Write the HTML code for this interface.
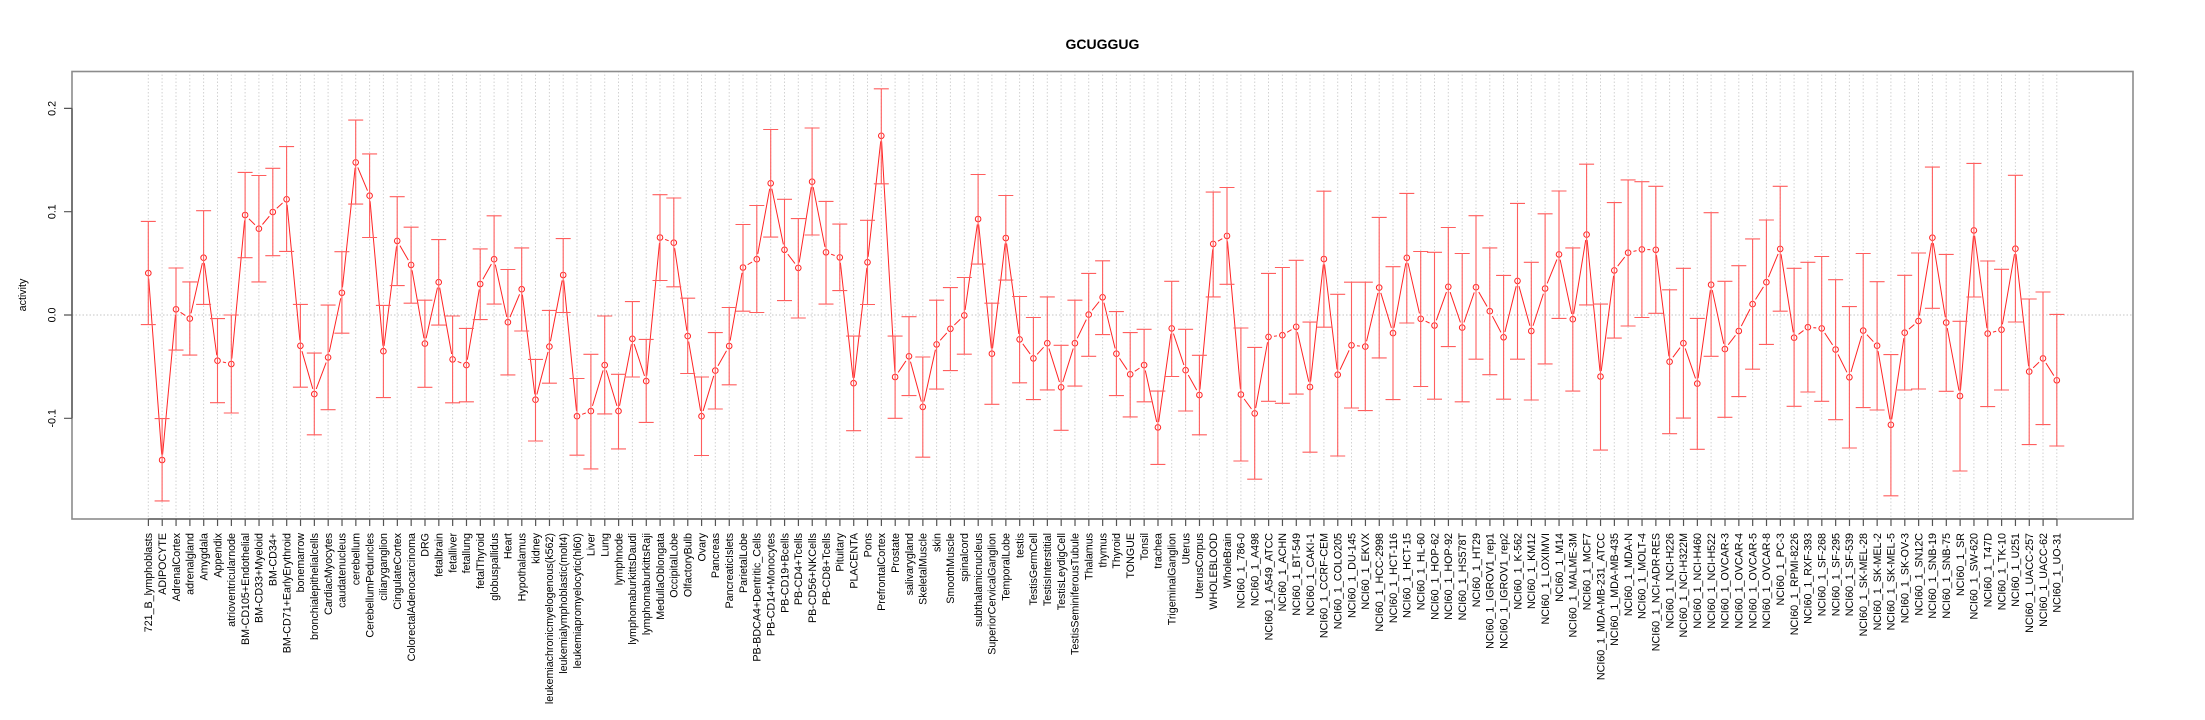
<!DOCTYPE html>
<html><head><meta charset="utf-8"><style>
body{margin:0;background:#fff}
svg{display:block}
text{font-family:"Liberation Sans",Arial,sans-serif;fill:#000}
</style></head><body>
<svg width="2205" height="720" viewBox="0 0 2205 720" xmlns="http://www.w3.org/2000/svg">
<defs>
<marker id="m" markerWidth="14" markerHeight="14" refX="7" refY="7" markerUnits="userSpaceOnUse" overflow="visible">
<circle cx="7" cy="7" r="5.5" fill="#fff"/>
<circle cx="7" cy="7" r="2.8" fill="none" stroke="#ff2424" stroke-width="1"/>
</marker>
</defs>
<rect width="2205" height="720" fill="#fff"/>
<text x="1102.5" y="49" text-anchor="middle" font-size="14" font-weight="bold">GCUGGUG</text>
<!-- grid -->
<path fill="none" stroke="#d2d2d2" stroke-width="1" stroke-dasharray="1.5 2" d="M148.3 71V519M162.1 71V519M176 71V519M189.8 71V519M203.6 71V519M217.5 71V519M231.3 71V519M245.1 71V519M258.9 71V519M272.8 71V519M286.6 71V519M300.4 71V519M314.3 71V519M328.1 71V519M341.9 71V519M355.7 71V519M369.6 71V519M383.4 71V519M397.2 71V519M411.1 71V519M424.9 71V519M438.7 71V519M452.6 71V519M466.4 71V519M480.2 71V519M494.1 71V519M507.9 71V519M521.7 71V519M535.5 71V519M549.4 71V519M563.2 71V519M577 71V519M590.9 71V519M604.7 71V519M618.5 71V519M632.4 71V519M646.2 71V519M660 71V519M673.8 71V519M687.7 71V519M701.5 71V519M715.3 71V519M729.2 71V519M743 71V519M756.8 71V519M770.7 71V519M784.5 71V519M798.3 71V519M812.1 71V519M826 71V519M839.8 71V519M853.6 71V519M867.5 71V519M881.3 71V519M895.1 71V519M909 71V519M922.8 71V519M936.6 71V519M950.4 71V519M964.3 71V519M978.1 71V519M991.9 71V519M1005.8 71V519M1019.6 71V519M1033.4 71V519M1047.3 71V519M1061.1 71V519M1074.9 71V519M1088.7 71V519M1102.6 71V519M1116.4 71V519M1130.2 71V519M1144.1 71V519M1157.9 71V519M1171.7 71V519M1185.6 71V519M1199.4 71V519M1213.2 71V519M1227 71V519M1240.9 71V519M1254.7 71V519M1268.5 71V519M1282.4 71V519M1296.2 71V519M1310 71V519M1323.9 71V519M1337.7 71V519M1351.5 71V519M1365.3 71V519M1379.2 71V519M1393 71V519M1406.8 71V519M1420.7 71V519M1434.5 71V519M1448.3 71V519M1462.2 71V519M1476 71V519M1489.8 71V519M1503.6 71V519M1517.5 71V519M1531.3 71V519M1545.1 71V519M1559 71V519M1572.8 71V519M1586.6 71V519M1600.5 71V519M1614.3 71V519M1628.1 71V519M1641.9 71V519M1655.8 71V519M1669.6 71V519M1683.4 71V519M1697.3 71V519M1711.1 71V519M1724.9 71V519M1738.8 71V519M1752.6 71V519M1766.4 71V519M1780.2 71V519M1794.1 71V519M1807.9 71V519M1821.7 71V519M1835.6 71V519M1849.4 71V519M1863.2 71V519M1877.1 71V519M1890.9 71V519M1904.7 71V519M1918.5 71V519M1932.4 71V519M1946.2 71V519M1960 71V519M1973.9 71V519M1987.7 71V519M2001.5 71V519M2015.4 71V519M2029.2 71V519M2043 71V519M2056.8 71V519"/>
<line x1="72" y1="315" x2="2133" y2="315" stroke="#c4c4c4" stroke-width="1" stroke-dasharray="1.5 2"/>
<!-- series line with point markers -->
<polyline fill="none" stroke="#ff2424" stroke-width="1" marker-start="url(#m)" marker-mid="url(#m)" marker-end="url(#m)" points="148.3,273.1 162.1,460 176,309.3 189.8,318.6 203.6,257.7 217.5,360.7 231.3,364 245.1,215 258.9,228.7 272.8,212 286.6,199.3 300.4,345.8 314.3,394.1 328.1,357.4 341.9,292.8 355.7,162.4 369.6,195.7 383.4,351.2 397.2,240.9 411.1,264.9 424.9,343.6 438.7,282.2 452.6,359.4 466.4,365.1 480.2,284 494.1,259.2 507.9,322.2 521.7,289.2 535.5,399.7 549.4,346.6 563.2,275 577,416.2 590.9,411.1 604.7,365.1 618.5,411.1 632.4,338.8 646.2,381.1 660,237.5 673.8,242.7 687.7,336.1 701.5,416.2 715.3,370.6 729.2,346 743,267.5 756.8,259.2 770.7,183.3 784.5,249.8 798.3,267.9 812.1,181.7 826,252.3 839.8,257.4 853.6,383.2 867.5,262.3 881.3,135.8 895.1,377 909,356.3 922.8,406.9 936.6,344.4 950.4,328.8 964.3,315.4 978.1,219 991.9,353.7 1005.8,238 1019.6,339.4 1033.4,358.4 1047.3,343.2 1061.1,387.3 1074.9,343.2 1088.7,314.6 1102.6,297.3 1116.4,353.7 1130.2,374.3 1144.1,365.1 1157.9,427.4 1171.7,328.4 1185.6,370.2 1199.4,395 1213.2,243.9 1227,235.9 1240.9,394.5 1254.7,413.4 1268.5,336.9 1282.4,335.2 1296.2,326.8 1310,387 1323.9,259 1337.7,374.7 1351.5,345.3 1365.3,346.6 1379.2,287.6 1393,333.1 1406.8,257.8 1420.7,318.8 1434.5,325.5 1448.3,286.8 1462.2,327.6 1476,287.2 1489.8,311.2 1503.6,337.3 1517.5,280.9 1531.3,331 1545.1,288.5 1559,254.4 1572.8,319.2 1586.6,234.6 1600.5,376.5 1614.3,270.4 1628.1,252.7 1641.9,249.4 1655.8,249.8 1669.6,361.7 1683.4,343.2 1697.3,383.6 1711.1,284.7 1724.9,349.1 1738.8,331 1752.6,304.1 1766.4,282.2 1780.2,248.9 1794.1,337.7 1807.9,327.2 1821.7,328.4 1835.6,349.5 1849.4,377.3 1863.2,330.6 1877.1,345.7 1890.9,424.8 1904.7,332.7 1918.5,321 1932.4,237.7 1946.2,322.6 1960,396 1973.9,230.4 1987.7,333.6 2001.5,329.7 2015.4,248.7 2029.2,371.6 2043,358.4 2056.8,380.3"/>
<!-- error bars -->
<path fill="none" stroke="#ff5e5e" stroke-width="1.1" d="M148.3 221.4m-7.5 0h15m-7.5 0V324.6m-7.5 0h15M162.1 418.6m-7.5 0h15m-7.5 0V500.9m-7.5 0h15M176 268m-7.5 0h15m-7.5 0V350.1m-7.5 0h15M189.8 281.9m-7.5 0h15m-7.5 0V355.1m-7.5 0h15M203.6 210.7m-7.5 0h15m-7.5 0V304.4m-7.5 0h15M217.5 318.6m-7.5 0h15m-7.5 0V402.7m-7.5 0h15M231.3 315m-7.5 0h15m-7.5 0V413m-7.5 0h15M245.1 172.4m-7.5 0h15m-7.5 0V257.7m-7.5 0h15M258.9 175.5m-7.5 0h15m-7.5 0V281.9m-7.5 0h15M272.8 168.3m-7.5 0h15m-7.5 0V255.7m-7.5 0h15M286.6 146.6m-7.5 0h15m-7.5 0V251.4m-7.5 0h15M300.4 304.4m-7.5 0h15m-7.5 0V387.2m-7.5 0h15M314.3 353.1m-7.5 0h15m-7.5 0V434.8m-7.5 0h15M328.1 305.1m-7.5 0h15m-7.5 0V409.7m-7.5 0h15M341.9 251.7m-7.5 0h15m-7.5 0V333.2m-7.5 0h15M355.7 120.1m-7.5 0h15m-7.5 0V204.1m-7.5 0h15M369.6 153.9m-7.5 0h15m-7.5 0V237.5m-7.5 0h15M383.4 305.4m-7.5 0h15m-7.5 0V397.6m-7.5 0h15M397.2 196.7m-7.5 0h15m-7.5 0V285.6m-7.5 0h15M411.1 227.2m-7.5 0h15m-7.5 0V303.2m-7.5 0h15M424.9 300.2m-7.5 0h15m-7.5 0V387.3m-7.5 0h15M438.7 239.6m-7.5 0h15m-7.5 0V325.1m-7.5 0h15M452.6 316m-7.5 0h15m-7.5 0V402.8m-7.5 0h15M466.4 328.4m-7.5 0h15m-7.5 0V401.8m-7.5 0h15M480.2 248.9m-7.5 0h15m-7.5 0V319.6m-7.5 0h15M494.1 215.8m-7.5 0h15m-7.5 0V304.1m-7.5 0h15M507.9 269.5m-7.5 0h15m-7.5 0V374.9m-7.5 0h15M521.7 247.9m-7.5 0h15m-7.5 0V331m-7.5 0h15M535.5 359.4m-7.5 0h15m-7.5 0V441m-7.5 0h15M549.4 310.4m-7.5 0h15m-7.5 0V383.2m-7.5 0h15M563.2 238.6m-7.5 0h15m-7.5 0V312.5m-7.5 0h15M577 378.5m-7.5 0h15m-7.5 0V455.2m-7.5 0h15M590.9 354.3m-7.5 0h15m-7.5 0V468.9m-7.5 0h15M604.7 316m-7.5 0h15m-7.5 0V413.9m-7.5 0h15M618.5 374.3m-7.5 0h15m-7.5 0V448.9m-7.5 0h15M632.4 301.6m-7.5 0h15m-7.5 0V377m-7.5 0h15M646.2 339.4m-7.5 0h15m-7.5 0V422.4m-7.5 0h15M660 194.7m-7.5 0h15m-7.5 0V280.5m-7.5 0h15M673.8 198m-7.5 0h15m-7.5 0V286.8m-7.5 0h15M687.7 298.2m-7.5 0h15m-7.5 0V373.5m-7.5 0h15M701.5 377m-7.5 0h15m-7.5 0V455.5m-7.5 0h15M715.3 332.6m-7.5 0h15m-7.5 0V409m-7.5 0h15M729.2 307.5m-7.5 0h15m-7.5 0V384.8m-7.5 0h15M743 224.5m-7.5 0h15m-7.5 0V311.2m-7.5 0h15M756.8 205.5m-7.5 0h15m-7.5 0V312.5m-7.5 0h15M770.7 129.5m-7.5 0h15m-7.5 0V237.1m-7.5 0h15M784.5 199.3m-7.5 0h15m-7.5 0V300.6m-7.5 0h15M798.3 218.6m-7.5 0h15m-7.5 0V318m-7.5 0h15M812.1 128m-7.5 0h15m-7.5 0V235m-7.5 0h15M826 201.4m-7.5 0h15m-7.5 0V304.1m-7.5 0h15M839.8 224.1m-7.5 0h15m-7.5 0V290.6m-7.5 0h15M853.6 336.1m-7.5 0h15m-7.5 0V430.7m-7.5 0h15M867.5 220.3m-7.5 0h15m-7.5 0V304.5m-7.5 0h15M881.3 88.8m-7.5 0h15m-7.5 0V183.8m-7.5 0h15M895.1 336.1m-7.5 0h15m-7.5 0V418.3m-7.5 0h15M909 316.7m-7.5 0h15m-7.5 0V395.6m-7.5 0h15M922.8 357m-7.5 0h15m-7.5 0V457.2m-7.5 0h15M936.6 300.2m-7.5 0h15m-7.5 0V389.1m-7.5 0h15M950.4 287.6m-7.5 0h15m-7.5 0V370.6m-7.5 0h15M964.3 277.5m-7.5 0h15m-7.5 0V354.2m-7.5 0h15M978.1 174.5m-7.5 0h15m-7.5 0V264.1m-7.5 0h15M991.9 303.2m-7.5 0h15m-7.5 0V404.3m-7.5 0h15M1005.8 195.5m-7.5 0h15m-7.5 0V280.1m-7.5 0h15M1019.6 296.5m-7.5 0h15m-7.5 0V382.8m-7.5 0h15M1033.4 317.5m-7.5 0h15m-7.5 0V399.6m-7.5 0h15M1047.3 296.9m-7.5 0h15m-7.5 0V389.9m-7.5 0h15M1061.1 345.3m-7.5 0h15m-7.5 0V430.3m-7.5 0h15M1074.9 300.2m-7.5 0h15m-7.5 0V386.1m-7.5 0h15M1088.7 273.4m-7.5 0h15m-7.5 0V356.3m-7.5 0h15M1102.6 260.8m-7.5 0h15m-7.5 0V334.6m-7.5 0h15M1116.4 311.6m-7.5 0h15m-7.5 0V395.6m-7.5 0h15M1130.2 332.6m-7.5 0h15m-7.5 0V416.9m-7.5 0h15M1144.1 329.3m-7.5 0h15m-7.5 0V401.8m-7.5 0h15M1157.9 391.1m-7.5 0h15m-7.5 0V464.4m-7.5 0h15M1171.7 281.3m-7.5 0h15m-7.5 0V376.5m-7.5 0h15M1185.6 329.3m-7.5 0h15m-7.5 0V411m-7.5 0h15M1199.4 355.3m-7.5 0h15m-7.5 0V434.8m-7.5 0h15M1213.2 192.1m-7.5 0h15m-7.5 0V296.9m-7.5 0h15M1227 187.5m-7.5 0h15m-7.5 0V284.3m-7.5 0h15M1240.9 328m-7.5 0h15m-7.5 0V461m-7.5 0h15M1254.7 347.4m-7.5 0h15m-7.5 0V479.2m-7.5 0h15M1268.5 273.4m-7.5 0h15m-7.5 0V401.3m-7.5 0h15M1282.4 267.5m-7.5 0h15m-7.5 0V403.3m-7.5 0h15M1296.2 260.3m-7.5 0h15m-7.5 0V394.1m-7.5 0h15M1310 322.1m-7.5 0h15m-7.5 0V452.2m-7.5 0h15M1323.9 191.2m-7.5 0h15m-7.5 0V327.2m-7.5 0h15M1337.7 294.3m-7.5 0h15m-7.5 0V456m-7.5 0h15M1351.5 282.2m-7.5 0h15m-7.5 0V408m-7.5 0h15M1365.3 282.2m-7.5 0h15m-7.5 0V410.6m-7.5 0h15M1379.2 217.4m-7.5 0h15m-7.5 0V357.9m-7.5 0h15M1393 266.7m-7.5 0h15m-7.5 0V399.6m-7.5 0h15M1406.8 193.4m-7.5 0h15m-7.5 0V323m-7.5 0h15M1420.7 251.5m-7.5 0h15m-7.5 0V386.5m-7.5 0h15M1434.5 252.3m-7.5 0h15m-7.5 0V399.2m-7.5 0h15M1448.3 227.5m-7.5 0h15m-7.5 0V346.6m-7.5 0h15M1462.2 253.5m-7.5 0h15m-7.5 0V401.8m-7.5 0h15M1476 215.7m-7.5 0h15m-7.5 0V359.2m-7.5 0h15M1489.8 247.9m-7.5 0h15m-7.5 0V374.7m-7.5 0h15M1503.6 275.4m-7.5 0h15m-7.5 0V399.2m-7.5 0h15M1517.5 203.4m-7.5 0h15m-7.5 0V359.2m-7.5 0h15M1531.3 262.3m-7.5 0h15m-7.5 0V400m-7.5 0h15M1545.1 213.8m-7.5 0h15m-7.5 0V363.9m-7.5 0h15M1559 191m-7.5 0h15m-7.5 0V318.4m-7.5 0h15M1572.8 247.9m-7.5 0h15m-7.5 0V391.1m-7.5 0h15M1586.6 164.2m-7.5 0h15m-7.5 0V304.9m-7.5 0h15M1600.5 304.1m-7.5 0h15m-7.5 0V450.1m-7.5 0h15M1614.3 202.6m-7.5 0h15m-7.5 0V338.1m-7.5 0h15M1628.1 179.9m-7.5 0h15m-7.5 0V326m-7.5 0h15M1641.9 181.7m-7.5 0h15m-7.5 0V317.5m-7.5 0h15M1655.8 186.3m-7.5 0h15m-7.5 0V313.3m-7.5 0h15M1669.6 289.8m-7.5 0h15m-7.5 0V433.7m-7.5 0h15M1683.4 268.3m-7.5 0h15m-7.5 0V418.1m-7.5 0h15M1697.3 318.4m-7.5 0h15m-7.5 0V449.3m-7.5 0h15M1711.1 212.7m-7.5 0h15m-7.5 0V356.3m-7.5 0h15M1724.9 281.3m-7.5 0h15m-7.5 0V417.3m-7.5 0h15M1738.8 265.7m-7.5 0h15m-7.5 0V396.6m-7.5 0h15M1752.6 238.9m-7.5 0h15m-7.5 0V369.2m-7.5 0h15M1766.4 220m-7.5 0h15m-7.5 0V344.4m-7.5 0h15M1780.2 186.3m-7.5 0h15m-7.5 0V311.2m-7.5 0h15M1794.1 268.3m-7.5 0h15m-7.5 0V406.3m-7.5 0h15M1807.9 262.3m-7.5 0h15m-7.5 0V392m-7.5 0h15M1821.7 256.5m-7.5 0h15m-7.5 0V401.3m-7.5 0h15M1835.6 279.7m-7.5 0h15m-7.5 0V419.7m-7.5 0h15M1849.4 306.6m-7.5 0h15m-7.5 0V448m-7.5 0h15M1863.2 253.5m-7.5 0h15m-7.5 0V407.6m-7.5 0h15M1877.1 281.7m-7.5 0h15m-7.5 0V410m-7.5 0h15M1890.9 354.6m-7.5 0h15m-7.5 0V495.8m-7.5 0h15M1904.7 275.3m-7.5 0h15m-7.5 0V390m-7.5 0h15M1918.5 253m-7.5 0h15m-7.5 0V389m-7.5 0h15M1932.4 167.1m-7.5 0h15m-7.5 0V308.3m-7.5 0h15M1946.2 254.4m-7.5 0h15m-7.5 0V391.3m-7.5 0h15M1960 321.3m-7.5 0h15m-7.5 0V471m-7.5 0h15M1973.9 163.4m-7.5 0h15m-7.5 0V297m-7.5 0h15M1987.7 261m-7.5 0h15m-7.5 0V406.6m-7.5 0h15M2001.5 269.3m-7.5 0h15m-7.5 0V390m-7.5 0h15M2015.4 175.3m-7.5 0h15m-7.5 0V322m-7.5 0h15M2029.2 299m-7.5 0h15m-7.5 0V444.6m-7.5 0h15M2043 292m-7.5 0h15m-7.5 0V424.6m-7.5 0h15M2056.8 314.4m-7.5 0h15m-7.5 0V446m-7.5 0h15"/>
<!-- box and axes -->
<rect x="72" y="71.5" width="2061" height="447.5" fill="none" stroke="#8c8c8c" stroke-width="1.6"/>
<line x1="72" y1="108.4" x2="72" y2="418.3" stroke="#666" stroke-width="1.6"/>
<line x1="148.3" y1="519" x2="2056.8" y2="519" stroke="#666" stroke-width="1.6"/>
<path stroke="#555" stroke-width="1.2" d="M64 108.4H72M64 211.7H72M64 315H72M64 418.3H72"/>
<line x1="147.8" y1="522.5" x2="2058" y2="522.5" stroke="#555" stroke-width="7" stroke-dasharray="1.2 12.63"/>
<g font-size="10.7" text-anchor="middle">
<text transform="translate(55.5,108.4) rotate(-90)">0.2</text>
<text transform="translate(55.5,211.7) rotate(-90)">0.1</text>
<text transform="translate(55.5,315) rotate(-90)">0.0</text>
<text transform="translate(55.5,418.3) rotate(-90)">-0.1</text>
<text transform="translate(26,295) rotate(-90)">activity</text>
</g>
<g font-size="10.7" text-anchor="end">
<text transform="translate(152.1,533) rotate(-90)">721_B_lymphoblasts</text>
<text transform="translate(165.9,533) rotate(-90)">ADIPOCYTE</text>
<text transform="translate(179.8,533) rotate(-90)">AdrenalCortex</text>
<text transform="translate(193.6,533) rotate(-90)">adrenalgland</text>
<text transform="translate(207.4,533) rotate(-90)">Amygdala</text>
<text transform="translate(221.3,533) rotate(-90)">Appendix</text>
<text transform="translate(235.1,533) rotate(-90)">atrioventricularnode</text>
<text transform="translate(248.9,533) rotate(-90)">BM-CD105+Endothelial</text>
<text transform="translate(262.7,533) rotate(-90)">BM-CD33+Myeloid</text>
<text transform="translate(276.6,533) rotate(-90)">BM-CD34+</text>
<text transform="translate(290.4,533) rotate(-90)">BM-CD71+EarlyErythroid</text>
<text transform="translate(304.2,533) rotate(-90)">bonemarrow</text>
<text transform="translate(318.1,533) rotate(-90)">bronchialepithelialcells</text>
<text transform="translate(331.9,533) rotate(-90)">CardiacMyocytes</text>
<text transform="translate(345.7,533) rotate(-90)">caudatenucleus</text>
<text transform="translate(359.5,533) rotate(-90)">cerebellum</text>
<text transform="translate(373.4,533) rotate(-90)">CerebellumPeduncles</text>
<text transform="translate(387.2,533) rotate(-90)">ciliaryganglion</text>
<text transform="translate(401,533) rotate(-90)">CingulateCortex</text>
<text transform="translate(414.9,533) rotate(-90)">ColorectalAdenocarcinoma</text>
<text transform="translate(428.7,533) rotate(-90)">DRG</text>
<text transform="translate(442.5,533) rotate(-90)">fetalbrain</text>
<text transform="translate(456.4,533) rotate(-90)">fetalliver</text>
<text transform="translate(470.2,533) rotate(-90)">fetallung</text>
<text transform="translate(484,533) rotate(-90)">fetalThyroid</text>
<text transform="translate(497.9,533) rotate(-90)">globuspallidus</text>
<text transform="translate(511.7,533) rotate(-90)">Heart</text>
<text transform="translate(525.5,533) rotate(-90)">Hypothalamus</text>
<text transform="translate(539.3,533) rotate(-90)">kidney</text>
<text transform="translate(553.2,533) rotate(-90)">leukemiachronicmyelogenous(k562)</text>
<text transform="translate(567,533) rotate(-90)">leukemialymphoblastic(molt4)</text>
<text transform="translate(580.8,533) rotate(-90)">leukemiapromyelocytic(hl60)</text>
<text transform="translate(594.7,533) rotate(-90)">Liver</text>
<text transform="translate(608.5,533) rotate(-90)">Lung</text>
<text transform="translate(622.3,533) rotate(-90)">lymphnode</text>
<text transform="translate(636.2,533) rotate(-90)">lymphomaburkittsDaudi</text>
<text transform="translate(650,533) rotate(-90)">lymphomaburkittsRaji</text>
<text transform="translate(663.8,533) rotate(-90)">MedullaOblongata</text>
<text transform="translate(677.6,533) rotate(-90)">OccipitalLobe</text>
<text transform="translate(691.5,533) rotate(-90)">OlfactoryBulb</text>
<text transform="translate(705.3,533) rotate(-90)">Ovary</text>
<text transform="translate(719.1,533) rotate(-90)">Pancreas</text>
<text transform="translate(733,533) rotate(-90)">PancreaticIslets</text>
<text transform="translate(746.8,533) rotate(-90)">ParietalLobe</text>
<text transform="translate(760.6,533) rotate(-90)">PB-BDCA4+Dentritic_Cells</text>
<text transform="translate(774.5,533) rotate(-90)">PB-CD14+Monocytes</text>
<text transform="translate(788.3,533) rotate(-90)">PB-CD19+Bcells</text>
<text transform="translate(802.1,533) rotate(-90)">PB-CD4+Tcells</text>
<text transform="translate(815.9,533) rotate(-90)">PB-CD56+NKCells</text>
<text transform="translate(829.8,533) rotate(-90)">PB-CD8+Tcells</text>
<text transform="translate(843.6,533) rotate(-90)">Pituitary</text>
<text transform="translate(857.4,533) rotate(-90)">PLACENTA</text>
<text transform="translate(871.3,533) rotate(-90)">Pons</text>
<text transform="translate(885.1,533) rotate(-90)">PrefrontalCortex</text>
<text transform="translate(898.9,533) rotate(-90)">Prostate</text>
<text transform="translate(912.8,533) rotate(-90)">salivarygland</text>
<text transform="translate(926.6,533) rotate(-90)">SkeletalMuscle</text>
<text transform="translate(940.4,533) rotate(-90)">skin</text>
<text transform="translate(954.2,533) rotate(-90)">SmoothMuscle</text>
<text transform="translate(968.1,533) rotate(-90)">spinalcord</text>
<text transform="translate(981.9,533) rotate(-90)">subthalamicnucleus</text>
<text transform="translate(995.7,533) rotate(-90)">SuperiorCervicalGanglion</text>
<text transform="translate(1009.6,533) rotate(-90)">TemporalLobe</text>
<text transform="translate(1023.4,533) rotate(-90)">testis</text>
<text transform="translate(1037.2,533) rotate(-90)">TestisGermCell</text>
<text transform="translate(1051.1,533) rotate(-90)">TestisInterstitial</text>
<text transform="translate(1064.9,533) rotate(-90)">TestisLeydigCell</text>
<text transform="translate(1078.7,533) rotate(-90)">TestisSeminiferousTubule</text>
<text transform="translate(1092.5,533) rotate(-90)">Thalamus</text>
<text transform="translate(1106.4,533) rotate(-90)">thymus</text>
<text transform="translate(1120.2,533) rotate(-90)">Thyroid</text>
<text transform="translate(1134,533) rotate(-90)">TONGUE</text>
<text transform="translate(1147.9,533) rotate(-90)">Tonsil</text>
<text transform="translate(1161.7,533) rotate(-90)">trachea</text>
<text transform="translate(1175.5,533) rotate(-90)">TrigeminalGanglion</text>
<text transform="translate(1189.4,533) rotate(-90)">Uterus</text>
<text transform="translate(1203.2,533) rotate(-90)">UterusCorpus</text>
<text transform="translate(1217,533) rotate(-90)">WHOLEBLOOD</text>
<text transform="translate(1230.8,533) rotate(-90)">WholeBrain</text>
<text transform="translate(1244.7,533) rotate(-90)">NCI60_1_786-0</text>
<text transform="translate(1258.5,533) rotate(-90)">NCI60_1_A498</text>
<text transform="translate(1272.3,533) rotate(-90)">NCI60_1_A549_ATCC</text>
<text transform="translate(1286.2,533) rotate(-90)">NCI60_1_ACHN</text>
<text transform="translate(1300,533) rotate(-90)">NCI60_1_BT-549</text>
<text transform="translate(1313.8,533) rotate(-90)">NCI60_1_CAKI-1</text>
<text transform="translate(1327.7,533) rotate(-90)">NCI60_1_CCRF-CEM</text>
<text transform="translate(1341.5,533) rotate(-90)">NCI60_1_COLO205</text>
<text transform="translate(1355.3,533) rotate(-90)">NCI60_1_DU-145</text>
<text transform="translate(1369.1,533) rotate(-90)">NCI60_1_EKVX</text>
<text transform="translate(1383,533) rotate(-90)">NCI60_1_HCC-2998</text>
<text transform="translate(1396.8,533) rotate(-90)">NCI60_1_HCT-116</text>
<text transform="translate(1410.6,533) rotate(-90)">NCI60_1_HCT-15</text>
<text transform="translate(1424.5,533) rotate(-90)">NCI60_1_HL-60</text>
<text transform="translate(1438.3,533) rotate(-90)">NCI60_1_HOP-62</text>
<text transform="translate(1452.1,533) rotate(-90)">NCI60_1_HOP-92</text>
<text transform="translate(1466,533) rotate(-90)">NCI60_1_HS578T</text>
<text transform="translate(1479.8,533) rotate(-90)">NCI60_1_HT29</text>
<text transform="translate(1493.6,533) rotate(-90)">NCI60_1_IGROV1_rep1</text>
<text transform="translate(1507.4,533) rotate(-90)">NCI60_1_IGROV1_rep2</text>
<text transform="translate(1521.3,533) rotate(-90)">NCI60_1_K-562</text>
<text transform="translate(1535.1,533) rotate(-90)">NCI60_1_KM12</text>
<text transform="translate(1548.9,533) rotate(-90)">NCI60_1_LOXIMVI</text>
<text transform="translate(1562.8,533) rotate(-90)">NCI60_1_M14</text>
<text transform="translate(1576.6,533) rotate(-90)">NCI60_1_MALME-3M</text>
<text transform="translate(1590.4,533) rotate(-90)">NCI60_1_MCF7</text>
<text transform="translate(1604.3,533) rotate(-90)">NCI60_1_MDA-MB-231_ATCC</text>
<text transform="translate(1618.1,533) rotate(-90)">NCI60_1_MDA-MB-435</text>
<text transform="translate(1631.9,533) rotate(-90)">NCI60_1_MDA-N</text>
<text transform="translate(1645.7,533) rotate(-90)">NCI60_1_MOLT-4</text>
<text transform="translate(1659.6,533) rotate(-90)">NCI60_1_NCI-ADR-RES</text>
<text transform="translate(1673.4,533) rotate(-90)">NCI60_1_NCI-H226</text>
<text transform="translate(1687.2,533) rotate(-90)">NCI60_1_NCI-H322M</text>
<text transform="translate(1701.1,533) rotate(-90)">NCI60_1_NCI-H460</text>
<text transform="translate(1714.9,533) rotate(-90)">NCI60_1_NCI-H522</text>
<text transform="translate(1728.7,533) rotate(-90)">NCI60_1_OVCAR-3</text>
<text transform="translate(1742.6,533) rotate(-90)">NCI60_1_OVCAR-4</text>
<text transform="translate(1756.4,533) rotate(-90)">NCI60_1_OVCAR-5</text>
<text transform="translate(1770.2,533) rotate(-90)">NCI60_1_OVCAR-8</text>
<text transform="translate(1784,533) rotate(-90)">NCI60_1_PC-3</text>
<text transform="translate(1797.9,533) rotate(-90)">NCI60_1_RPMI-8226</text>
<text transform="translate(1811.7,533) rotate(-90)">NCI60_1_RXF-393</text>
<text transform="translate(1825.5,533) rotate(-90)">NCI60_1_SF-268</text>
<text transform="translate(1839.4,533) rotate(-90)">NCI60_1_SF-295</text>
<text transform="translate(1853.2,533) rotate(-90)">NCI60_1_SF-539</text>
<text transform="translate(1867,533) rotate(-90)">NCI60_1_SK-MEL-28</text>
<text transform="translate(1880.9,533) rotate(-90)">NCI60_1_SK-MEL-2</text>
<text transform="translate(1894.7,533) rotate(-90)">NCI60_1_SK-MEL-5</text>
<text transform="translate(1908.5,533) rotate(-90)">NCI60_1_SK-OV-3</text>
<text transform="translate(1922.3,533) rotate(-90)">NCI60_1_SN12C</text>
<text transform="translate(1936.2,533) rotate(-90)">NCI60_1_SNB-19</text>
<text transform="translate(1950,533) rotate(-90)">NCI60_1_SNB-75</text>
<text transform="translate(1963.8,533) rotate(-90)">NCI60_1_SR</text>
<text transform="translate(1977.7,533) rotate(-90)">NCI60_1_SW-620</text>
<text transform="translate(1991.5,533) rotate(-90)">NCI60_1_T47D</text>
<text transform="translate(2005.3,533) rotate(-90)">NCI60_1_TK-10</text>
<text transform="translate(2019.2,533) rotate(-90)">NCI60_1_U251</text>
<text transform="translate(2033,533) rotate(-90)">NCI60_1_UACC-257</text>
<text transform="translate(2046.8,533) rotate(-90)">NCI60_1_UACC-62</text>
<text transform="translate(2060.6,533) rotate(-90)">NCI60_1_UO-31</text>
</g>
</svg>
</body></html>
